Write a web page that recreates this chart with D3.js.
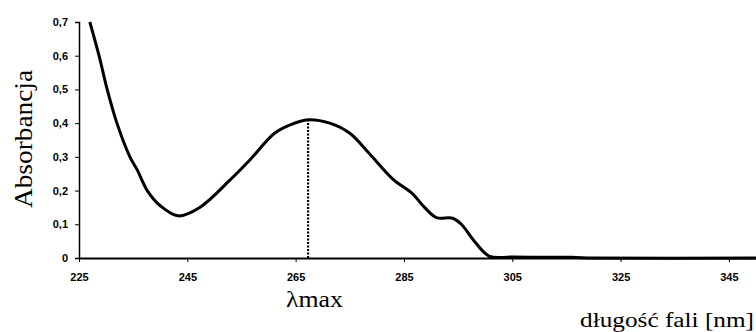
<!DOCTYPE html>
<html>
<head>
<meta charset="utf-8">
<script src="https://cdn.jsdelivr.net/npm/d3@7"></script>
<style>
  body { margin: 0; background: #fff; }
  .tick text { font-family: "Liberation Sans", Arial, sans-serif; font-weight: bold; font-size: 11px; fill: #000; }
  .lbl { font-family: "Liberation Serif", "Times New Roman", serif; fill: #000; }
</style>
</head>
<body>
<div id="chart"></div>
<script>
// spectrum
const wavelength = [227, 228.7, 230.2, 232, 234.4, 235.8, 237.6, 240, 243.3, 247.3, 252.8, 256.5, 261.1, 264, 267.3, 271.3, 275, 278.6, 282.9, 286.6, 288.8, 291, 294, 295.6, 298, 300.8, 305, 316, 320, 350];
const absorbance = [0.70, 0.60, 0.50, 0.40, 0.30, 0.26, 0.20, 0.155, 0.125, 0.15, 0.23, 0.29, 0.37, 0.395, 0.41, 0.40, 0.37, 0.31, 0.235, 0.19, 0.15, 0.12, 0.118, 0.10, 0.05, 0.005, 0.003, 0.002, 0, 0];
const xTicks = [225, 245, 265, 285, 305, 325, 345];
const yTicks = [0, 0.1, 0.2, 0.3, 0.4, 0.5, 0.6, 0.7];
const lambdaMax = 267.3;
const peakValue = 0.41;

const W = 756, H = 332;
const pad = {top: 22, left: 79, right: 0, bottom: 74};

const svg = d3.select('#chart').append('svg')
    .attr('width', W).attr('height', H);

const xScale = d3.scaleLinear().domain([225, 350]).range([pad.left, W - pad.right]);
const yScale = d3.scaleLinear().domain([0, 0.7]).range([H - pad.bottom, pad.top]);

const fmt = d => d === 0 ? '0' : d3.format('.1f')(d).replace('.', ',');

// y axis
const yAxis = svg.append('g')
    .attr('transform', `translate(${pad.left},0)`)
    .call(d3.axisLeft(yScale).tickValues(yTicks).tickFormat(fmt).tickSize(4).tickPadding(7));
yAxis.select('.domain').attr('stroke-width', 1.5);

// x axis
const xAxis = svg.append('g')
    .attr('transform', `translate(0,${yScale(0)})`)
    .call(d3.axisBottom(xScale).tickValues(xTicks).tickSizeInner(4).tickSizeOuter(0).tickPadding(11));
xAxis.select('.domain').attr('stroke-width', 2);

// lambda max marker
svg.append('line')
    .attr('x1', xScale(lambdaMax)).attr('x2', xScale(lambdaMax))
    .attr('y1', yScale(0)).attr('y2', yScale(peakValue))
    .attr('stroke', '#000').attr('stroke-width', 2.2)
    .attr('stroke-dasharray', '2,1.5');

// curve
const line = d3.line()
    .x((d, i) => xScale(wavelength[i]))
    .y(d => yScale(d))
    .curve(d3.curveCatmullRom.alpha(0.5));

svg.append('path')
    .datum(absorbance)
    .attr('d', line)
    .attr('fill', 'none')
    .attr('stroke', '#000')
    .attr('stroke-width', 3)
    .attr('stroke-linejoin', 'round');

// labels
svg.append('text').attr('class', 'lbl')
    .attr('transform', `translate(32,139) rotate(-90)`)
    .attr('text-anchor', 'middle')
    .attr('textLength', 138).attr('lengthAdjust', 'spacingAndGlyphs')
    .style('font-size', '25px')
    .text('Absorbancja');

svg.append('text').attr('class', 'lbl')
    .attr('x', 286).attr('y', 307)
    .attr('textLength', 57).attr('lengthAdjust', 'spacingAndGlyphs')
    .style('font-size', '24px')
    .text('λmax');

svg.append('text').attr('class', 'lbl')
    .attr('x', 580).attr('y', 327)
    .attr('textLength', 174).attr('lengthAdjust', 'spacingAndGlyphs')
    .style('font-size', '20px')
    .text('długość fali [nm]');
</script>
</body>
</html>
